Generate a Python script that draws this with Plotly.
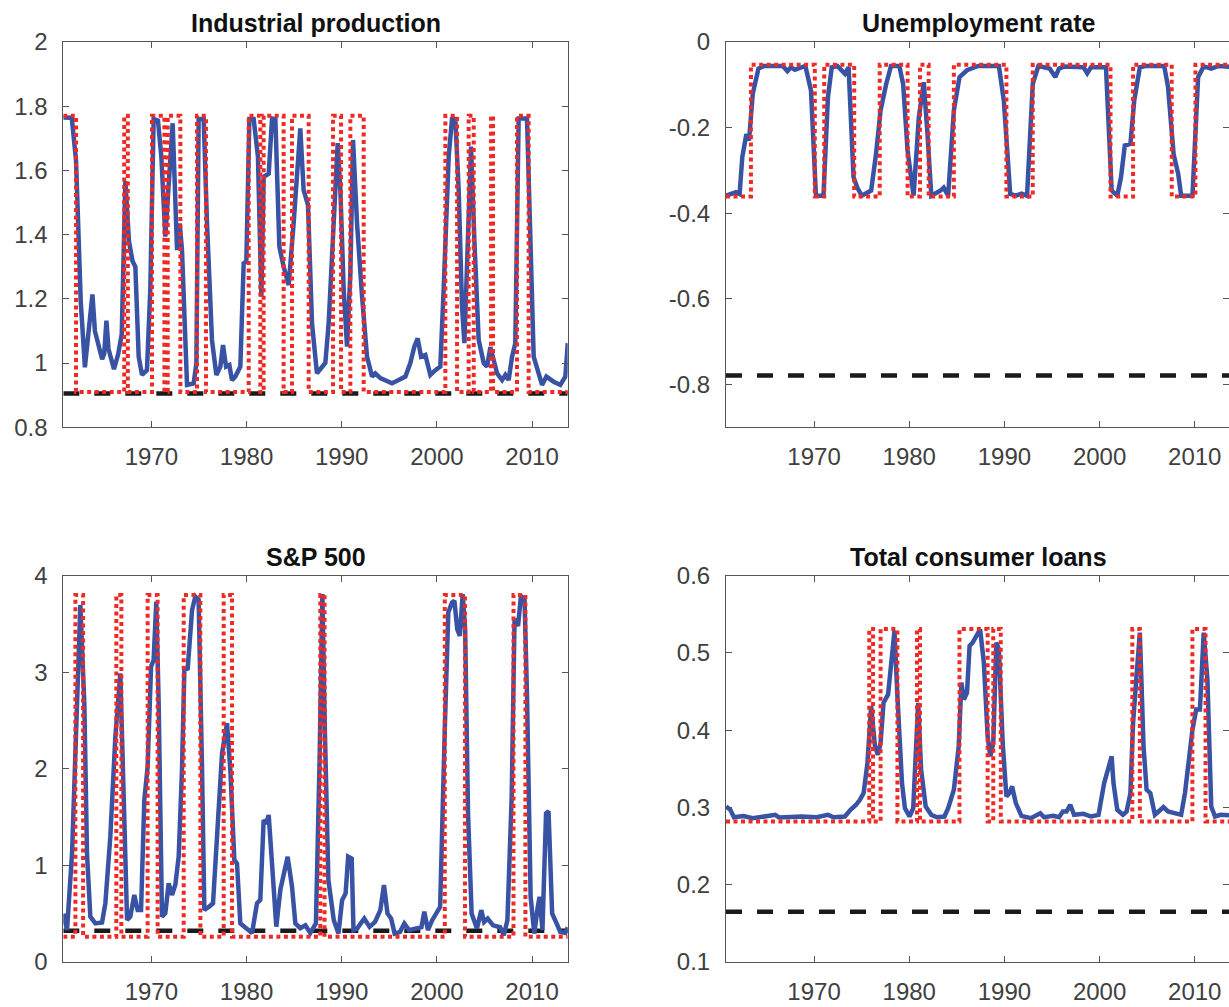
import plotly.graph_objects as go

# ---------------- data ----------------
# Industrial production: smoothed (blue), regime path (red), reference level (black)
ip_t = [1960.75, 1961.64, 1962.09, 1962.58, 1963.02, 1963.4, 1963.81, 1964.07, 1964.45, 1964.83,
        1965.05, 1965.28, 1965.5, 1966.07, 1966.52, 1966.89, 1967.27, 1967.65, 1968.02, 1968.32,
        1968.67, 1969.02, 1969.54, 1969.89, 1970.24, 1970.7, 1971.05, 1971.47, 1972.24, 1972.7,
        1972.98, 1973.22, 1973.75, 1974.45, 1974.73, 1974.97, 1975.5, 1975.85, 1976.37, 1976.83,
        1977.25, 1977.53, 1977.85, 1978.2, 1978.47, 1978.82, 1979.35, 1979.7, 1979.98, 1980.3,
        1980.75, 1981.2, 1981.56, 1981.8, 1982.33, 1982.68, 1983.03, 1983.45, 1983.9, 1984.43,
        1984.95, 1985.65, 1986.0, 1986.46, 1986.88, 1987.4, 1988.1, 1988.28, 1988.63, 1989.16,
        1989.58, 1989.86, 1990.21, 1990.56, 1990.91, 1991.19, 1991.61, 1992.14, 1992.66, 1993.19,
        1993.53, 1994.06, 1994.76, 1995.29, 1995.98, 1996.69, 1997.21, 1997.63, 1997.98, 1998.34,
        1998.79, 1999.31, 1999.84, 2000.36, 2000.71, 2001.24, 2001.59, 2001.94, 2002.29, 2002.64,
        2002.89, 2003.23, 2003.59, 2003.94, 2004.39, 2004.92, 2005.27, 2005.62, 2006.32, 2006.85,
        2007.19, 2007.54, 2007.9, 2008.24, 2008.59, 2009.47, 2009.82, 2010.17, 2010.69, 2011.05,
        2011.5, 2011.92, 2012.27, 2012.97, 2013.5, 2013.75]
ip_v = [1.765, 1.764, 1.63, 1.194, 0.987, 1.09, 1.214, 1.1, 1.059, 1.012,
        1.03, 1.132, 1.044, 0.981, 1.028, 1.09, 1.567, 1.38, 1.318, 1.30,
        1.02, 0.963, 0.978, 1.228, 1.76, 1.755, 1.643, 1.394, 1.747, 1.352,
        1.435, 1.352, 0.932, 0.937, 0.999, 1.76, 1.76, 1.435, 1.072, 0.963,
        0.989, 1.056, 0.989, 0.994, 0.947, 0.958, 0.989, 1.311, 1.316, 1.76,
        1.76, 1.643, 1.207, 1.58, 1.59, 1.762, 1.76, 1.362, 1.30, 1.243,
        1.435, 1.731, 1.539, 1.492, 1.124, 0.968, 0.994, 1.0, 1.124, 1.435,
        1.685, 1.539, 1.228, 1.051, 1.28, 1.695, 1.435, 1.207, 1.02, 0.958,
        0.968, 0.953, 0.942, 0.937, 0.947, 0.958, 1.0, 1.051, 1.077, 1.02,
        1.025, 0.963, 0.978, 0.989, 1.228, 1.643, 1.76, 1.76, 1.539, 1.176,
        1.062, 1.331, 1.674, 1.383, 1.072, 1.0, 0.989, 1.05, 0.968, 0.947,
        0.963, 0.947, 1.02, 1.062, 1.762, 1.762, 1.33, 1.02, 0.968, 0.932,
        0.958, 0.947, 0.942, 0.932, 0.958, 1.062]
ip_switch_t = [1960.75, 1962.09, 1967.15, 1967.53, 1970.07, 1971.37, 1971.72, 1973.05, 1974.8, 1975.74,
               1980.23, 1981.45, 1981.8, 1983.9, 1984.78, 1986.53, 1989.09, 1989.93, 1990.91, 1992.31,
               2000.89, 2002.12, 2003.34, 2003.87, 2005.69, 2005.9, 2008.42, 2009.64, 2013.75]
ip_switch_state = [1, 0, 1, 0, 1, 0, 1, 0, 1, 0,
                   1, 0, 1, 0, 1, 0, 1, 0, 1, 0,
                   1, 0, 1, 0, 1, 0, 1, 0, 0]
ip_levels = [0.91, 1.77]
ip_mean = 0.905

# Unemployment rate
ur_t = [1960.76, 1961.79, 1962.18, 1962.46, 1962.89, 1963.17, 1963.56, 1964.16, 1964.75, 1966.72,
        1967.2, 1967.59, 1967.99, 1969.09, 1969.68, 1970.2, 1970.99, 1971.46, 1971.86, 1972.45,
        1973.24, 1973.63, 1974.15, 1974.54, 1975.01, 1976.0, 1976.51, 1976.99, 1977.58, 1978.09,
        1978.96, 1979.36, 1979.83, 1980.46, 1981.01, 1981.53, 1981.92, 1982.32, 1983.3, 1983.62,
        1984.09, 1984.69, 1985.28, 1986.07, 1987.25, 1989.42, 1989.94, 1990.61, 1991.2, 1991.79,
        1992.38, 1992.98, 1993.57, 1994.75, 1995.35, 1995.74, 1996.33, 1998.31, 1998.7, 1999.1,
        2000.67, 2001.27, 2001.86, 2002.25, 2002.65, 2003.24, 2003.64, 2004.23, 2004.82, 2006.79,
        2007.19, 2007.78, 2008.26, 2008.57, 2009.76, 2010.35, 2010.94, 2011.73, 2012.52, 2013.75]
ur_v = [-0.359, -0.351, -0.355, -0.269, -0.215, -0.23, -0.121, -0.062, -0.056, -0.056,
        -0.068, -0.059, -0.065, -0.056, -0.113, -0.359, -0.359, -0.129, -0.059, -0.056,
        -0.074, -0.059, -0.316, -0.34, -0.359, -0.347, -0.262, -0.16, -0.098, -0.056,
        -0.056, -0.098, -0.254, -0.359, -0.176, -0.094, -0.215, -0.359, -0.347, -0.34,
        -0.359, -0.16, -0.082, -0.066, -0.056, -0.056, -0.137, -0.355, -0.359, -0.354,
        -0.359, -0.098, -0.056, -0.062, -0.082, -0.062, -0.057, -0.059, -0.073, -0.059,
        -0.059, -0.347, -0.359, -0.316, -0.242, -0.238, -0.137, -0.059, -0.056, -0.056,
        -0.105, -0.262, -0.308, -0.359, -0.359, -0.082, -0.057, -0.062, -0.056, -0.058]
ur_switch_t = [1960.75, 1963.37, 1970.08, 1971.07, 1974.22, 1976.9, 1979.83, 1981.13, 1982.04, 1984.69,
               1990.21, 1992.98, 2001.15, 2003.52, 2007.58, 2010.07, 2013.75]
ur_switch_state = [0, 1, 0, 1, 0, 1, 0, 1, 0, 1,
                   0, 1, 0, 1, 0, 1, 1]
ur_levels = [-0.361, -0.053]
ur_mean = -0.779

# S&P 500
sp_t = [1960.75, 1961.14, 1961.67, 1962.19, 1962.54, 1962.96, 1963.24, 1963.59, 1964.12, 1964.82,
        1965.17, 1965.69, 1966.22, 1966.74, 1967.09, 1967.45, 1967.79, 1968.21, 1968.56, 1968.92,
        1969.26, 1969.61, 1969.97, 1970.24, 1970.52, 1970.77, 1971.12, 1971.47, 1971.82, 1972.17,
        1972.52, 1972.87, 1973.22, 1973.47, 1973.82, 1974.28, 1974.62, 1974.97, 1975.33, 1975.57,
        1976.02, 1976.48, 1976.9, 1977.43, 1977.95, 1978.3, 1978.72, 1979.0, 1979.35, 1980.05,
        1980.58, 1981.1, 1981.45, 1981.8, 1982.08, 1982.33, 1982.68, 1983.13, 1983.55, 1984.32,
        1984.78, 1985.13, 1985.65, 1986.18, 1986.7, 1987.29, 1987.67, 1987.97, 1988.23, 1988.6,
        1989.17, 1989.66, 1990.04, 1990.41, 1990.68, 1991.05, 1991.24, 1991.62, 1992.37, 1992.93,
        1993.5, 1994.06, 1994.44, 1994.81, 1995.19, 1995.56, 1996.13, 1996.58, 1997.07, 1998.0,
        1998.38, 1998.68, 1999.06, 1999.51, 2000.08, 2000.34, 2000.83, 2001.2, 2001.58, 2001.84,
        2002.14, 2002.41, 2002.71, 2002.97, 2003.27, 2003.65, 2004.21, 2004.66, 2004.96, 2005.34,
        2005.9, 2006.65, 2007.03, 2007.41, 2007.86, 2008.16, 2008.53, 2008.83, 2009.21, 2009.47,
        2009.85, 2010.23, 2010.6, 2010.79, 2011.09, 2011.47, 2011.73, 2012.11, 2012.67, 2012.97,
        2013.5, 2013.75]
sp_v = [0.50, 0.331, 1.126, 2.678, 3.697, 2.678, 1.126, 0.469, 0.40, 0.41,
        0.608, 1.298, 2.333, 2.989, 1.643, 0.435, 0.47, 0.694, 0.538, 0.538,
        1.677, 2.023, 3.058, 3.127, 3.731, 2.678, 0.469, 0.504, 0.815, 0.694,
        0.80, 1.09, 1.988, 3.024, 3.04, 3.645, 3.783, 3.75, 1.988, 0.538,
        0.57, 0.608, 1.298, 2.161, 2.472, 1.988, 1.057, 1.02, 0.40, 0.35,
        0.30, 0.608, 0.643, 1.47, 1.436, 1.522, 0.95, 0.366, 0.746, 1.09,
        0.78, 0.40, 0.35, 0.38, 0.30, 0.40, 2.06, 3.81, 2.41, 0.85,
        0.433, 0.294, 0.64, 0.71, 1.09, 1.07, 0.33, 0.346, 0.45, 0.364,
        0.415, 0.537, 0.797, 0.502, 0.45, 0.294, 0.312, 0.398, 0.33, 0.346,
        0.36, 0.52, 0.33, 0.433, 0.537, 0.57, 2.407, 3.62, 3.72, 3.74,
        3.446, 3.376, 3.81, 3.446, 1.54, 0.502, 0.346, 0.537, 0.415, 0.45,
        0.38, 0.36, 0.277, 0.433, 1.714, 3.55, 3.48, 3.79, 3.757, 2.753,
        0.675, 0.294, 0.571, 0.675, 0.33, 1.54, 1.56, 0.502, 0.38, 0.31,
        0.30, 0.36]
sp_switch_t = [1960.75, 1962.02, 1962.83, 1966.32, 1966.85, 1969.61, 1970.66, 1973.4, 1975.15, 1977.6,
               1978.48, 1987.75, 1988.2, 2000.83, 2002.95, 2008.05, 2009.3, 2013.75]
sp_switch_state = [0, 1, 0, 1, 0, 1, 0, 1, 0, 1,
                   0, 1, 0, 1, 0, 1, 0, 0]
sp_levels = [0.262, 3.80]
sp_mean = 0.324

# Total consumer loans
cl_t = [1960.76, 1961.2, 1961.59, 1962.58, 1963.56, 1965.93, 1966.33, 1968.7, 1970.28, 1971.46,
        1972.05, 1973.24, 1973.83, 1974.42, 1974.82, 1975.21, 1975.61, 1976.0, 1976.4, 1976.71,
        1976.99, 1977.3, 1977.78, 1978.09, 1978.45, 1978.76, 1979.24, 1979.55, 1980.03, 1980.42,
        1980.94, 1981.25, 1981.73, 1982.32, 1982.91, 1983.7, 1984.09, 1984.69, 1985.2, 1985.48,
        1985.75, 1986.07, 1986.34, 1986.66, 1987.05, 1987.45, 1987.84, 1988.24, 1988.52, 1988.83,
        1989.15, 1989.42, 1989.82, 1990.21, 1990.53, 1990.81, 1991.2, 1991.79, 1992.78, 1993.77,
        1994.16, 1995.15, 1995.74, 1996.14, 1996.53, 1996.92, 1997.32, 1998.31, 1999.1, 1999.89,
        2000.48, 2000.87, 2001.27, 2001.46, 2001.86, 2002.45, 2002.84, 2003.24, 2003.52, 2003.83,
        2004.23, 2004.62, 2004.94, 2005.33, 2005.81, 2006.2, 2006.71, 2007.19, 2007.78, 2008.57,
        2008.97, 2009.44, 2009.76, 2010.15, 2010.54, 2010.94, 2011.33, 2011.73, 2012.13, 2012.72,
        2013.75]
cl_v = [0.3013, 0.297, 0.2874, 0.289, 0.286, 0.2905, 0.287, 0.2883, 0.2874, 0.2905,
        0.2874, 0.2883, 0.297, 0.3035, 0.31, 0.3186, 0.3576, 0.4312, 0.3792, 0.3684,
        0.3835, 0.4355, 0.4463, 0.4874, 0.5286, 0.4442, 0.3316, 0.2991, 0.2883, 0.2991,
        0.4355, 0.3489, 0.3013, 0.2905, 0.2874, 0.2883, 0.2991, 0.3229, 0.3792, 0.4615,
        0.4398, 0.4485, 0.5091, 0.5134, 0.5221, 0.5307, 0.4874, 0.3922, 0.3662, 0.3835,
        0.5134, 0.5048, 0.3835, 0.3143, 0.3186, 0.3273, 0.3056, 0.2892, 0.2861, 0.2926,
        0.2874, 0.2892, 0.2874, 0.2948, 0.2948, 0.3035, 0.2905, 0.2918, 0.2883, 0.2905,
        0.3316, 0.3489, 0.3662, 0.3316, 0.297, 0.2905, 0.2948, 0.3186, 0.4095, 0.4615,
        0.5264, 0.3792, 0.3229, 0.3186, 0.2905, 0.2948, 0.3004, 0.2948, 0.2926, 0.2905,
        0.3186, 0.3706, 0.4009, 0.4268, 0.4268, 0.5264, 0.4658, 0.3013, 0.2883, 0.2905,
        0.29]
cl_switch_t = [1960.75, 1975.8, 1976.2, 1976.99, 1978.76, 1980.82, 1981.13, 1985.28, 1988.24, 1988.83,
               1989.62, 2003.44, 2004.23, 2009.75, 2011.13, 2013.75]
cl_switch_state = [0, 1, 0, 1, 0, 1, 0, 1, 0, 1,
                   0, 1, 0, 1, 0, 0]
cl_levels = [0.282, 0.531]
cl_mean = 0.165

panel_titles = ["Industrial production", "Unemployment rate", "S&P 500", "Total consumer loans"]
year_ticks = [1970, 1980, 1990, 2000, 2010]

# ---------------- styling ----------------
W, H = 1229, 1007
BLUE = "#3953a4"
RED = "#ee2a24"
BLACK = "#1a1a1a"
AXIS = "#555555"
FONT = "Liberation Sans, Arial, Helvetica, sans-serif"

# pixel boxes of the four plotting areas (left, right, top, bottom)
boxes = [(63.3, 567.7, 42.0, 427.3),
         (726.0, 1229.0, 42.0, 427.3),
         (63.3, 567.7, 575.7, 962.0),
         (726.0, 1229.0, 575.7, 962.0)]
px_per_year = 9.518
x_start = 1960.75

panels = [
    dict(t=ip_t, v=ip_v, st=ip_switch_t, ss=ip_switch_state, lv=ip_levels, mean=ip_mean,
         yr=[0.8, 2.0], yt=[0.8, 1.0, 1.2, 1.4, 1.6, 1.8, 2.0], ytl=["0.8", "1", "1.2", "1.4", "1.6", "1.8", "2"]),
    dict(t=ur_t, v=ur_v, st=ur_switch_t, ss=ur_switch_state, lv=ur_levels, mean=ur_mean,
         yr=[-0.9, 0.0], yt=[-0.8, -0.6, -0.4, -0.2, 0.0], ytl=["-0.8", "-0.6", "-0.4", "-0.2", "0"]),
    dict(t=sp_t, v=sp_v, st=sp_switch_t, ss=sp_switch_state, lv=sp_levels, mean=sp_mean,
         yr=[0.0, 4.0], yt=[0, 1, 2, 3, 4], ytl=["0", "1", "2", "3", "4"]),
    dict(t=cl_t, v=cl_v, st=cl_switch_t, ss=cl_switch_state, lv=cl_levels, mean=cl_mean,
         yr=[0.1, 0.6], yt=[0.1, 0.2, 0.3, 0.4, 0.5, 0.6], ytl=["0.1", "0.2", "0.3", "0.4", "0.5", "0.6"]),
]

fig = go.Figure()
layout = dict(width=W, height=H, autosize=False, margin=dict(l=0, r=0, t=0, b=0, autoexpand=False),
              paper_bgcolor="white", plot_bgcolor="white", showlegend=False,
              annotations=[])

for i, (p, box) in enumerate(zip(panels, boxes)):
    n = "" if i == 0 else str(i + 1)
    xa, ya = "x" + n, "y" + n
    left, right, top, bottom = box
    x_end = x_start + (right - left) / px_per_year

    # reference level
    fig.add_trace(go.Scatter(x=[x_start, 2013.75], y=[p["mean"], p["mean"]], mode="lines",
                             line=dict(color=BLACK, width=4.5, dash="16px,15px"),
                             xaxis=xa, yaxis=ya, hoverinfo="skip"))
    # smoothed series
    fig.add_trace(go.Scatter(x=p["t"], y=p["v"], mode="lines",
                             line=dict(color=BLUE, width=4.5),
                             xaxis=xa, yaxis=ya))
    # regime path
    fig.add_trace(go.Scatter(x=p["st"], y=[p["lv"][s] for s in p["ss"]], mode="lines",
                             line=dict(color=RED, width=4, dash="4px,3.5px", shape="hv"),
                             xaxis=xa, yaxis=ya))

    common = dict(showline=True, linecolor=AXIS, linewidth=1, mirror="ticks",
                  ticks="inside", ticklen=6, tickwidth=1, tickcolor=AXIS,
                  showgrid=False, zeroline=False, automargin=False,
                  tickfont=dict(family=FONT, size=24, color="#404040"))
    layout["xaxis" + n] = dict(common, domain=[left / W, right / W], range=[x_start, x_end],
                               tickvals=year_ticks, ticktext=[str(y) for y in year_ticks],
                               anchor=ya, ticklabelstandoff=8)
    layout["yaxis" + n] = dict(common, domain=[1 - bottom / H, 1 - top / H], range=p["yr"],
                               tickvals=p["yt"], ticktext=p["ytl"], anchor=xa,
                               ticklabelstandoff=10)

    cx = (left + (left + (2013.75 - x_start) * px_per_year)) / 2
    layout["annotations"].append(dict(
        text="<b>" + panel_titles[i] + "</b>", xref="paper", yref="paper",
        x=cx / W, y=1 - (top - 19) / H, xanchor="center", yanchor="middle",
        showarrow=False, font=dict(family=FONT, size=25, color="#111111")))

fig.update_layout(**layout)
fig.write_html("out.html")
